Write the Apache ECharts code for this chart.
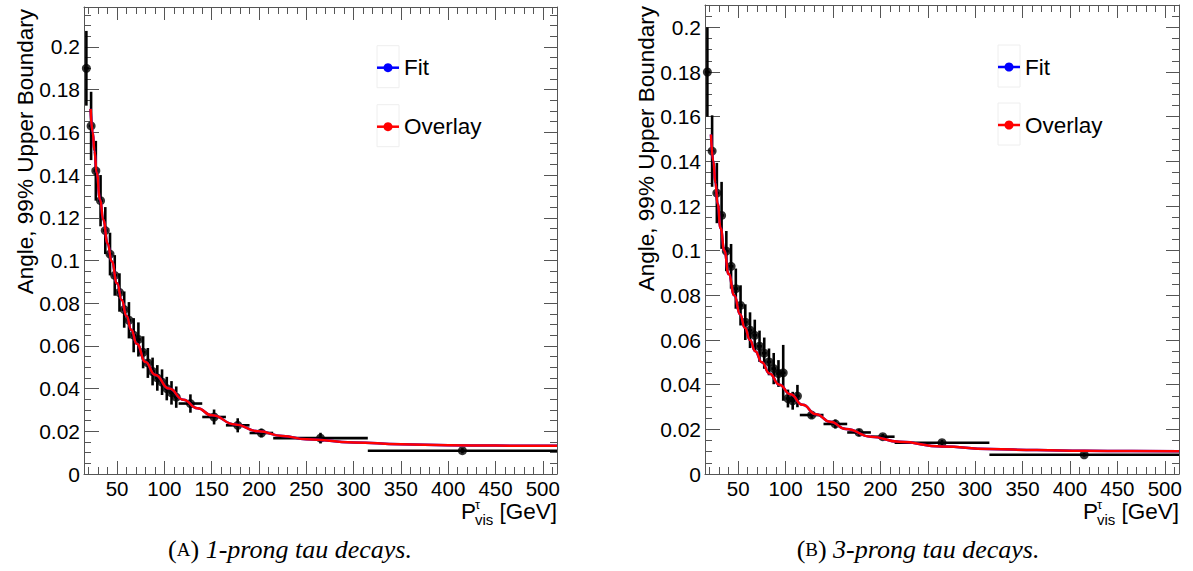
<!DOCTYPE html>
<html><head><meta charset="utf-8">
<script src="https://cdn.jsdelivr.net/npm/echarts@6/dist/echarts.min.js"></script>
<style>html,body{margin:0;padding:0;background:#fff}#c{width:1193px;height:571px}</style>
</head><body><div id="c"></div>
<script>
// ---------------- data ----------------
const binEdges = [15,20,25,30,35,40,45,50,55,60,65,70,75,80,85,90,95,100,105,110,115,140,165,190,215,315,515];

// (A) 1-prong
const values1 = [0.190,0.163,0.142,0.128,0.114,0.103,0.093,0.085,0.077,0.072,0.065,0.063,0.057,0.052,0.048,0.045,0.043,0.040,0.038,0.036,0.033,0.0267,0.0228,0.0192,0.0168,0.0109];
const errors1 = [0.0175,0.016,0.014,0.012,0.011,0.010,0.0095,0.009,0.0085,0.0085,0.008,0.008,0.0075,0.007,0.0065,0.006,0.006,0.0055,0.0055,0.005,0.0043,0.0035,0.0033,0.002,0.0025,0.0012];
const curveX1 = [22,24.2,26,28.4,32,35.4,40,44.3,50,54.8,60,65,70.7,80,90,105,120,135,150,175,199,225,250,300,350,400,450,515];
const curveY1 = [0.171,0.160,0.1515,0.141,0.1285,0.119,0.108,0.0995,0.0893,0.0815,0.0740,0.0675,0.061,0.0525,0.0465,0.040,0.0348,0.0308,0.0275,0.0232,0.0200,0.0178,0.0163,0.0148,0.0139,0.0135,0.0133,0.0132];

// (B) 3-prong
const values3 = [0.180,0.1446,0.1258,0.1158,0.0998,0.093,0.083,0.0755,0.068,0.0644,0.0621,0.0572,0.0541,0.0502,0.0472,0.045,0.0453,0.0338,0.0328,0.0349,0.0264,0.0224,0.0186,0.0167,0.014,0.0086];
const errors3 = [0.020,0.016,0.0135,0.015,0.009,0.010,0.009,0.009,0.008,0.008,0.007,0.007,0.007,0.006,0.007,0.006,0.0125,0.004,0.004,0.005,0.0015,0.002,0.0015,0.0012,0.0012,0.0008];
const curveX3 = [21.3,23.8,26,28.3,31.5,35.4,40,45.9,52,57,62.4,68,75,83,93.4,105,118,132,147,163.7,190,220,265,315,365,415,465,515];
const curveY3 = [0.152,0.140,0.1303,0.121,0.110,0.100,0.0895,0.080,0.0715,0.0655,0.060,0.055,0.050,0.045,0.040,0.0357,0.0310,0.0268,0.0234,0.0202,0.0167,0.0144,0.0123,0.0112,0.0107,0.0104,0.0103,0.0102];

// tick labels
const xTickLabels = [50,100,150,200,250,300,350,400,450,500];
const yTickLabels = [0,0.02,0.04,0.06,0.08,0.1,0.12,0.14,0.16,0.18,0.2];

const seriesNames = ['Fit','Overlay'];
const captions = [['A','1-prong tau decays.'],['B','3-prong tau decays.']];
const yTitle = 'Angle, 99% Upper Boundary';

// ---------------- layout ----------------
const panels = [
  {left:84, top:7, width:473, height:467, ymax:0.2187, values:values1, errors:errors1, cx:curveX1, cy:curveY1, legX:377, legY:[67.7,126.7], titleX:25, titleTop:9, capX:290},
  {left:705, top:5, width:474, height:469, ymax:0.21, values:values3, errors:errors3, cx:curveX3, cy:curveY3, legX:998, legY:[67,125], titleX:646, titleTop:6, capX:918}
];
const XMIN = 15, XMAX = 515;
const minorX = []; for (let v = 20; v <= 510; v += 10) if (v % 50 !== 0) minorX.push(v);
function minorY(max){ const a=[]; for(let k=1;k*0.005<max;k++){ if(k%4!==0) a.push(+(k*0.005).toFixed(3)); } return a; }

const AX = '#555';
const grids=[], xAxes=[], yAxes=[], series=[], graphics=[];
const font = 'Liberation Sans, Arial, sans-serif';

panels.forEach((p, i) => {
  grids.push({left:p.left, top:p.top, width:p.width, height:p.height, containLabel:false});
  const xBase = {type:'value', gridIndex:i, min:XMIN, max:XMAX, splitLine:{show:false}};
  const yBase = {type:'value', gridIndex:i, min:0, max:p.ymax, splitLine:{show:false}};
  const line = {show:true, onZero:false, lineStyle:{color:AX, width:1}};
  const noLine = {show:false, onZero:false};
  const tk = (vals, len) => ({show:true, inside:true, length:len, customValues:vals, lineStyle:{color:AX, width:1}});
  xAxes.push(Object.assign({}, xBase, {position:'bottom', axisLine:line, axisTick:tk(xTickLabels,13),
    axisLabel:{show:true, customValues:xTickLabels, color:'#000', fontSize:20.5, fontFamily:font, margin:4}}));
  xAxes.push(Object.assign({}, xBase, {position:'bottom', axisLine:noLine, axisTick:tk(minorX,7), axisLabel:{show:false}}));
  xAxes.push(Object.assign({}, xBase, {position:'top', axisLine:line, axisTick:tk(xTickLabels,13), axisLabel:{show:false}}));
  xAxes.push(Object.assign({}, xBase, {position:'top', axisLine:noLine, axisTick:tk(minorX,7), axisLabel:{show:false}}));
  const my = minorY(p.ymax);
  yAxes.push(Object.assign({}, yBase, {position:'left', axisLine:line, axisTick:tk(yTickLabels,15),
    axisLabel:{show:true, customValues:yTickLabels, color:'#000', fontSize:21, fontFamily:font, margin:4}}));
  yAxes.push(Object.assign({}, yBase, {position:'left', axisLine:noLine, axisTick:tk(my,7), axisLabel:{show:false}}));
  yAxes.push(Object.assign({}, yBase, {position:'right', axisLine:line, axisTick:tk(yTickLabels,13), axisLabel:{show:false}}));
  yAxes.push(Object.assign({}, yBase, {position:'right', axisLine:noLine, axisTick:tk(my,7), axisLabel:{show:false}}));

  const xi = 4*i, yi = 4*i;
  const pts = p.values.map((v, k) => {
    const lo = binEdges[k], hi = binEdges[k+1];
    return [(lo+hi)/2, v, lo, hi, p.errors[k]];
  });
  series.push({type:'custom', name:'errors'+i, xAxisIndex:xi, yAxisIndex:yi, data:pts, encode:{x:0, y:1}, z:2, silent:true,
    renderItem:function(params, api){
      const xc=api.value(0), y=api.value(1), lo=api.value(2), hi=api.value(3), e=api.value(4);
      const pL=api.coord([lo,y]), pR=api.coord([hi,y]), pT=api.coord([xc,y+e]), pB=api.coord([xc,y-e]);
      return {type:'group', children:[
        {type:'line', shape:{x1:pL[0],y1:pL[1],x2:pR[0],y2:pR[1]}, style:{stroke:'#000', lineWidth:2.6}},
        {type:'line', shape:{x1:pT[0],y1:pT[1],x2:pB[0],y2:pB[1]}, style:{stroke:'#000', lineWidth:2.6}}
      ]};
    }});
  series.push({type:'scatter', name:'points'+i, xAxisIndex:xi, yAxisIndex:yi, data:pts.map(d=>[d[0],d[1]]),
    symbol:'circle', symbolSize:9, itemStyle:{color:'#000'}, z:3, silent:true});
  const curve = p.cx.map((x,k)=>[x,p.cy[k]]);
  series.push({type:'line', name:seriesNames[0], xAxisIndex:xi, yAxisIndex:yi, data:curve, smooth:0.5, smoothMonotone:'x',
    showSymbol:false, lineStyle:{color:'#0000ff', width:2.5}, itemStyle:{color:'#0000ff'}, z:4, silent:true});
  series.push({type:'line', name:seriesNames[1], xAxisIndex:xi, yAxisIndex:yi, data:curve, smooth:0.5, smoothMonotone:'x',
    showSymbol:false, lineStyle:{color:'#ff0000', width:2.5}, itemStyle:{color:'#ff0000'}, z:5, silent:true});

  // legend
  const colors = ['#0000ff','#ff0000'];
  seriesNames.forEach((nm, k) => {
    const ly = p.legY[k], lx = p.legX;
    graphics.push({type:'rect', shape:{x:lx, y:ly-22, width:22, height:42}, style:{fill:'none', stroke:'#eeeeee', lineWidth:1}, z:10});
    graphics.push({type:'line', shape:{x1:lx, y1:ly, x2:lx+22, y2:ly}, style:{stroke:colors[k], lineWidth:2.5}, z:11});
    graphics.push({type:'circle', shape:{cx:lx+11, cy:ly, r:4.5}, style:{fill:colors[k]}, z:12});
    graphics.push({type:'text', x:lx+27, y:ly, style:{text:nm, fill:'#000', font:'22.5px '+font, align:'left', textAlign:'left', verticalAlign:'middle', textVerticalAlign:'middle'}, z:12});
  });

  // y title
  graphics.push({type:'text', x:p.titleX, y:p.titleTop, rotation:Math.PI/2,
    style:{text:yTitle, fill:'#000', font:'22.5px '+font, align:'right', textAlign:'right', verticalAlign:'middle', textVerticalAlign:'middle'}});

  // x title: P^tau_vis [GeV]
  const R = p.left + p.width;
  graphics.push({type:'text', x:R-96, y:511, style:{text:'P', fill:'#000', font:'22.5px '+font, align:'left', textAlign:'left', verticalAlign:'middle', textVerticalAlign:'middle'}});
  graphics.push({type:'text', x:R-82, y:504, style:{text:'τ', fill:'#000', font:'13px '+font, align:'left', textAlign:'left', verticalAlign:'middle', textVerticalAlign:'middle'}});
  graphics.push({type:'text', x:R-82, y:519, style:{text:'vis', fill:'#000', font:'15px '+font, align:'left', textAlign:'left', verticalAlign:'middle', textVerticalAlign:'middle'}});
  graphics.push({type:'text', x:R, y:511, style:{text:'[GeV]', fill:'#000', font:'22.5px '+font, align:'right', textAlign:'right', verticalAlign:'middle', textVerticalAlign:'middle'}});

  // caption
  graphics.push({type:'text', x:p.capX, y:549, style:{
    text:'{p|(}{s|'+captions[i][0]+'}{p|) }{t|'+captions[i][1]+'}', fill:'#000', align:'center', textAlign:'center', verticalAlign:'middle', textVerticalAlign:'middle',
    rich:{p:{fontFamily:'Liberation Serif, serif', fontSize:26, fill:'#000'},
          s:{fontFamily:'Liberation Serif, serif', fontSize:19, fill:'#000'},
          t:{fontFamily:'Liberation Serif, serif', fontSize:26, fontStyle:'italic', fill:'#000'}}}});
});

const chart = echarts.init(document.getElementById('c'), null, {renderer:'svg'});
chart.setOption({
  animation:false,
  backgroundColor:'#fff',
  grid:grids, xAxis:xAxes, yAxis:yAxes, series:series, graphic:graphics
});
</script></body></html>
